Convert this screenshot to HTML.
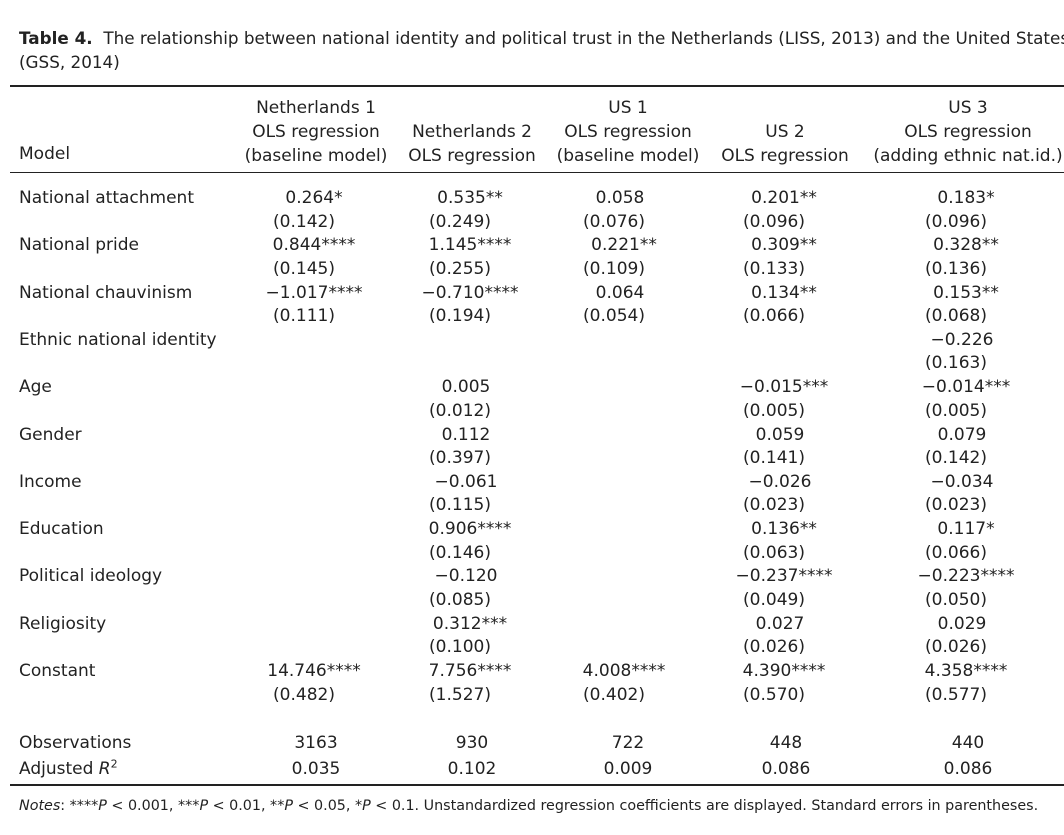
<!DOCTYPE html>
<html><head><meta charset="utf-8">
<style>
html,body{margin:0;padding:0;background:#fff;}
body{width:1064px;height:835px;position:relative;overflow:hidden;font-family:"DejaVu Sans","Liberation Sans",sans-serif;color:#222;font-size:17px;}
.t{position:absolute;white-space:nowrap;line-height:20px;}
.c{transform:translateX(-50%);text-align:center;}
.rule{position:absolute;left:10px;width:1054px;background:#222;}
</style></head><body>
<div class="t" style="left:19px;top:28px;font-size:16.8px;"><b>Table 4.</b>&nbsp; The relationship between national identity and political trust in the Netherlands (LISS, 2013) and the United States</div>
<div class="t" style="left:19px;top:52px;font-size:16.8px;">(GSS, 2014)</div>
<div class="rule" style="top:85px;height:2px;"></div>
<div class="rule" style="top:172px;height:1px;"></div>
<div class="rule" style="top:784px;height:2px;"></div>

<div class="t" style="left:19px;top:144px;">Model</div>
<div class="t c" style="left:316px;top:96px;line-height:24px;">Netherlands 1<br>OLS regression<br>(baseline model)</div>
<div class="t c" style="left:472px;top:120px;line-height:24px;">Netherlands 2<br>OLS regression</div>
<div class="t c" style="left:628px;top:96px;line-height:24px;">US 1<br>OLS regression<br>(baseline model)</div>
<div class="t c" style="left:785px;top:120px;line-height:24px;">US 2<br>OLS regression</div>
<div class="t c" style="left:968px;top:96px;line-height:24px;">US 3<br>OLS regression<br>(adding ethnic nat.id.)</div>

<div id="rows"></div>

<div class="t" style="left:19px;top:796px;font-size:14.3px;"><i>Notes</i>: ****<i>P</i> &lt; 0.001, ***<i>P</i> &lt; 0.01, **<i>P</i> &lt; 0.05, *<i>P</i> &lt; 0.1. Unstandardized regression coefficients are displayed. Standard errors in parentheses.</div>

<script>
const rowLabels=["National attachment","National pride","National chauvinism","Ethnic national identity","Age","Gender","Income","Education","Political ideology","Religiosity","Constant"];
const coefs=[
["0.264*","0.535**","0.058","0.201**","0.183*"],
["0.844****","1.145****","0.221**","0.309**","0.328**"],
["\u22121.017****","\u22120.710****","0.064","0.134**","0.153**"],
["","","","","\u22120.226"],
["","0.005","","\u22120.015***","\u22120.014***"],
["","0.112","","0.059","0.079"],
["","\u22120.061","","\u22120.026","\u22120.034"],
["","0.906****","","0.136**","0.117*"],
["","\u22120.120","","\u22120.237****","\u22120.223****"],
["","0.312***","","0.027","0.029"],
["14.746****","7.756****","4.008****","4.390****","4.358****"]];
const ses=[
["(0.142)","(0.249)","(0.076)","(0.096)","(0.096)"],
["(0.145)","(0.255)","(0.109)","(0.133)","(0.136)"],
["(0.111)","(0.194)","(0.054)","(0.066)","(0.068)"],
["","","","","(0.163)"],
["","(0.012)","","(0.005)","(0.005)"],
["","(0.397)","","(0.141)","(0.142)"],
["","(0.115)","","(0.023)","(0.023)"],
["","(0.146)","","(0.063)","(0.066)"],
["","(0.085)","","(0.049)","(0.050)"],
["","(0.100)","","(0.026)","(0.026)"],
["(0.482)","(1.527)","(0.402)","(0.570)","(0.577)"]];
const observations=["3163","930","722","448","440"];
const adjR2=["0.035","0.102","0.009","0.086","0.086"];
const colX=[310,466,620,780,962];
const statX=[316,472,628,786,968];
const root=document.getElementById('rows');
function add(txt,x,y,center,name){
  const d=document.createElement('div');
  d.className='t'+(center?' c':'');
  d.style.left=x+'px';d.style.top=(y-10)+'px';
  d.innerHTML=txt;
  
  
  root.appendChild(d);
}
rowLabels.forEach((lab,i)=>{
  const y=198+i*47.3;
  add(lab,19,y,false,'row-label');
  coefs[i].forEach((v,j)=>{ if(v) add(v,colX[j]+(v.includes('*')?4:0),y,true,'coefficient-cell'); });
  ses[i].forEach((v,j)=>{ if(v) add(v,colX[j]-6,y+23.5,true,'std-error-cell'); });
});
add("Observations",19,743,false,'row-label');
add("Adjusted <i>R</i><sup style='font-size:11px;line-height:0'>2</sup>",19,769,false,'row-label');
observations.forEach((v,j)=>add(v,statX[j],743,true,'observations-cell'));
adjR2.forEach((v,j)=>add(v,statX[j],769,true,'adj-r2-cell'));
</script>
</body></html>
